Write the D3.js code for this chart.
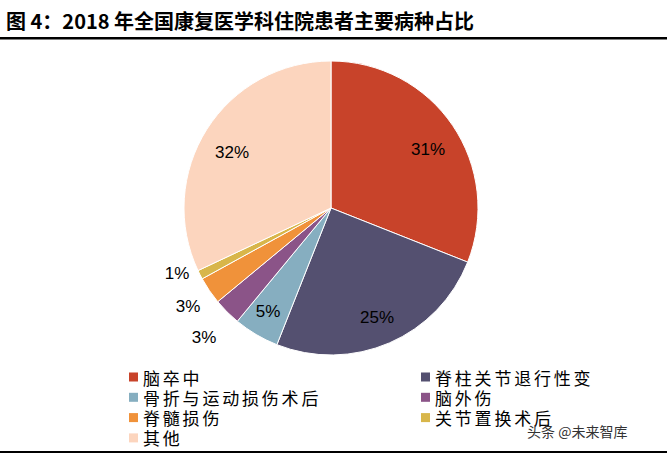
<!DOCTYPE html><html><head><meta charset="utf-8"><script src="https://cdn.jsdelivr.net/npm/d3@7"></script>
<style>body{margin:0;background:#fff}</style></head><body><svg id="c" width="667" height="453"></svg>
<script>
const categories=["脑卒中","脊柱关节退行性变","骨折与运动损伤术后","脑外伤","脊髓损伤","关节置换术后","其他"];
const values=[31,25,5,3,3,1,32];
const colors=["#C8432A","#545070","#86AEC0","#8B5488","#F0923A","#D8B64A","#FCD5BE"];
const labelPos=[[428,149],[377,317],[268,311],[204,337],[188,306],[177,273],[232,152]];
const svg=d3.select("#c");
const cjk="'Noto Sans CJK SC',sans-serif";
svg.append("text").attr("x",6).attr("y",29).attr("font-family",cjk).attr("font-weight","bold").attr("font-size",20).text("图 4：2018 年全国康复医学科住院患者主要病种占比");
svg.append("rect").attr("x",0).attr("y",37).attr("width",667).attr("height",2.5).attr("fill","#000");
svg.append("rect").attr("x",0).attr("y",451).attr("width",667).attr("height",2).attr("fill","#000");
const pie=d3.pie().sort(null).value(d=>d)(values);
const arc=d3.arc().innerRadius(0).outerRadius(147);
const g=svg.append("g").attr("transform","translate(331,208)");
g.selectAll("path").data(pie).join("path").attr("d",arc).attr("fill",(d,i)=>colors[i]).attr("stroke","#fff").attr("stroke-width",1);
svg.selectAll("text.l").data(values).join("text").attr("class","l").attr("x",(d,i)=>labelPos[i][0]).attr("y",(d,i)=>labelPos[i][1]).attr("text-anchor","middle").attr("dominant-baseline","central").attr("font-family","Arial,'Liberation Sans',sans-serif").attr("font-size",17).text(d=>d+"%");
categories.forEach((c,i)=>{const col=i%2,row=Math.floor(i/2);const x=col?421:129,y=377+row*20.3;
svg.append("rect").attr("x",x).attr("y",y-4.5).attr("width",9).attr("height",9).attr("fill",colors[i]);
svg.append("text").attr("x",x+14).attr("y",y).attr("dominant-baseline","central").attr("font-family",cjk).attr("font-size",17).attr("letter-spacing",2.8).text(c);});
svg.append("text").attr("x",527).attr("y",437).attr("font-family",cjk).attr("font-size",14).attr("fill","#333").text("头条 @未来智库");
</script></body></html>
